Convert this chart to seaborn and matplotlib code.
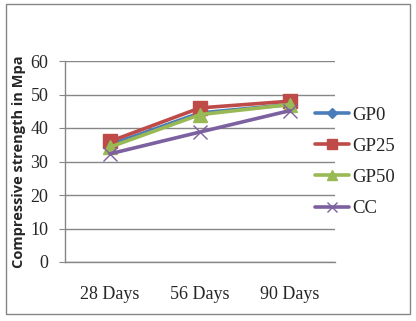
import matplotlib
matplotlib.use("Agg")
import matplotlib.pyplot as plt
import matplotlib.patches as patches
import pandas as pd
import seaborn as sns

ages = ["28 Days", "56 Days", "90 Days"]
gp0 = [35, 44.5, 47]
gp25 = [36, 46, 48]
gp50 = [34.3, 44, 47]
cc = [32.3, 38.8, 45.2]

series = ["GP0", "GP25", "GP50", "CC"]
values = [gp0, gp25, gp50, cc]
colors = ["#4A7EBB", "#BE4B48", "#98B954", "#7D60A0"]
markers = ["D", "s", "^", "x"]
msizes = [7, 10, 10, 10]

sns.set_style("white")
plt.rcParams["font.family"] = "serif"
plt.rcParams["font.serif"] = ["Liberation Serif", "Times New Roman", "DejaVu Serif"]

fig = plt.figure(figsize=(4.16, 3.21), dpi=100)
ax = fig.add_axes([65 / 416, 1 - 262 / 321, 270 / 416, 201 / 321])

# outer chart border
fig.patches.append(patches.Rectangle((6 / 416, 1 - 314 / 321), 404 / 416, 310 / 321,
                                     transform=fig.transFigure, fill=False,
                                     edgecolor="#868686", linewidth=1))

for name, vals, c, m, ms in zip(series, values, colors, markers, msizes):
    sns.lineplot(x=ages, y=vals, color=c, marker=m, markersize=ms,
                 markeredgecolor=c, markeredgewidth=1, linewidth=2.6,
                 sort=False, ax=ax, label=name, legend=False)

ax.set_xlim(-0.5, 2.5)
ax.set_ylim(0, 60)
ax.set_yticks(range(0, 61, 10))
ax.yaxis.grid(True, color="#868686", linewidth=1)
ax.set_axisbelow(True)
for s in ["top", "right"]:
    ax.spines[s].set_visible(False)
for s in ["left", "bottom"]:
    ax.spines[s].set_color("#868686")
    ax.spines[s].set_linewidth(1)
ax.tick_params(axis="y", length=4, color="#868686", labelsize=13, pad=8, direction="out", left=True)
ax.tick_params(axis="x", length=0, labelsize=13, pad=17)
ax.set_xlabel("")
ax.set_ylabel("Compressive strength in Mpa", fontsize=10.5, fontweight="bold",
              family=["Open Sans", "DejaVu Sans"], labelpad=3)

handles = [plt.Line2D([], [], color=c, marker=m, markersize=ms * 0.75, linewidth=2.6,
                      markeredgecolor=c) for c, m, ms in zip(colors, markers, msizes)]
fig.legend(handles, series, loc="upper left", bbox_to_anchor=(307 / 416, 1 - 99 / 321),
           frameon=False, fontsize=13.5, handlelength=1.85, handletextpad=0.15,
           labelspacing=0.75, borderaxespad=0)

fig.savefig("out.png", dpi=100)
